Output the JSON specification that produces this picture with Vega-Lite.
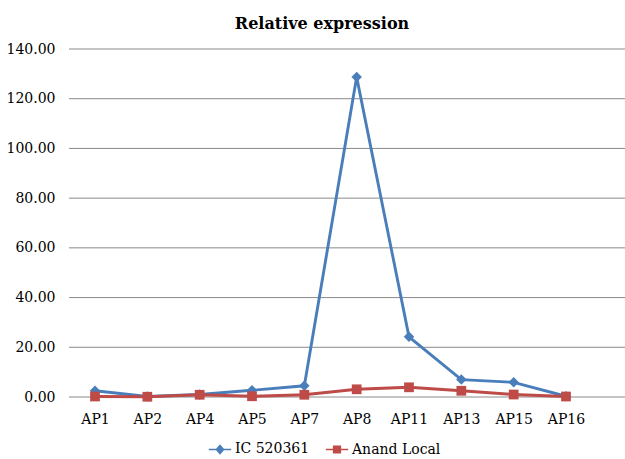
{
  "$schema": "https://vega.github.io/schema/vega-lite/v6.json",
  "autosize": "none",
  "width": 556,
  "height": 348,
  "padding": {"left": 69, "top": 49, "right": 0, "bottom": 62},
  "background": "white",
  "title": {
    "text": "Relative expression",
    "font": "DejaVu Serif",
    "fontSize": 16,
    "fontWeight": "bold",
    "color": "#000000",
    "anchor": "middle",
    "dx": -25,
    "offset": 10
  },
  "config": {
    "view": {"stroke": null},
    "axis": {
      "labelFont": "DejaVu Serif",
      "labelFontSize": 14,
      "labelColor": "#000000",
      "ticks": false,
      "domain": false,
      "grid": false,
      "title": null
    }
  },
  "datasets": {
    "expression": [
      {"gene": "AP1", "series": "IC 520361", "value": 2.5},
      {"gene": "AP2", "series": "IC 520361", "value": 0.2},
      {"gene": "AP4", "series": "IC 520361", "value": 1.0},
      {"gene": "AP5", "series": "IC 520361", "value": 2.7},
      {"gene": "AP7", "series": "IC 520361", "value": 4.5},
      {"gene": "AP8", "series": "IC 520361", "value": 128.7},
      {"gene": "AP11", "series": "IC 520361", "value": 24.2},
      {"gene": "AP13", "series": "IC 520361", "value": 7.0},
      {"gene": "AP15", "series": "IC 520361", "value": 5.9},
      {"gene": "AP16", "series": "IC 520361", "value": 0.3},
      {"gene": "AP1", "series": "Anand Local", "value": 0.2},
      {"gene": "AP2", "series": "Anand Local", "value": 0.1},
      {"gene": "AP4", "series": "Anand Local", "value": 0.9},
      {"gene": "AP5", "series": "Anand Local", "value": 0.3},
      {"gene": "AP7", "series": "Anand Local", "value": 0.9},
      {"gene": "AP8", "series": "Anand Local", "value": 3.1},
      {"gene": "AP11", "series": "Anand Local", "value": 3.9},
      {"gene": "AP13", "series": "Anand Local", "value": 2.5},
      {"gene": "AP15", "series": "Anand Local", "value": 1.0},
      {"gene": "AP16", "series": "Anand Local", "value": 0.2}
    ],
    "gridlines": [
      {"value": 0}, {"value": 20}, {"value": 40}, {"value": 60},
      {"value": 80}, {"value": 100}, {"value": 120}, {"value": 140}
    ]
  },
  "layer": [
    {
      "data": {"name": "gridlines"},
      "mark": {"type": "rule", "color": "#8a8a8a", "strokeWidth": 1},
      "encoding": {
        "y": {
          "field": "value",
          "type": "quantitative",
          "scale": {"domain": [0, 140], "nice": false},
          "axis": {
            "values": [0, 20, 40, 60, 80, 100, 120, 140],
            "format": ".2f",
            "labelPadding": 14
          }
        }
      }
    },
    {
      "data": {"name": "expression"},
      "encoding": {
        "x": {
          "field": "gene",
          "type": "ordinal",
          "sort": null,
          "scale": {"type": "point", "range": [26, 497], "padding": 0},
          "axis": {"labelAngle": 0, "labelPadding": 15}
        },
        "y": {"field": "value", "type": "quantitative"},
        "color": {
          "field": "series",
          "type": "nominal",
          "sort": ["IC 520361", "Anand Local"],
          "scale": {"domain": ["IC 520361", "Anand Local"], "range": ["#4A7EBB", "#BE4B48"]},
          "legend": {
            "title": null,
            "orient": "none",
            "direction": "horizontal",
            "legendX": 139,
            "legendY": 388,
            "labelFont": "DejaVu Serif",
            "labelFontSize": 14,
            "labelColor": "#000000",
            "symbolSize": 500,
            "columnPadding": 12,
            "labelOffset": 3,
            "encode": {
              "symbols": {
                "update": {
                  "shape": {"signal": "datum.value === 'IC 520361' ? 'M-1,0L1,0M0,-0.36L0.32,0L0,0.36L-0.32,0Z' : 'M-1,0L1,0M-0.3,-0.3L0.3,-0.3L0.3,0.3L-0.3,0.3Z'"},
                  "fill": {"signal": "datum.value === 'IC 520361' ? '#4A7EBB' : '#BE4B48'"},
                  "stroke": {"signal": "datum.value === 'IC 520361' ? '#4A7EBB' : '#BE4B48'"},
                  "strokeWidth": {"value": 1.5}
                }
              }
            }
          }
        }
      },
      "layer": [
        {"mark": {"type": "line", "strokeWidth": 2.9}},
        {
          "transform": [{"filter": "datum.series === 'IC 520361'"}],
          "mark": {"type": "point", "shape": "diamond", "filled": true, "opacity": 1, "size": 110}
        },
        {
          "transform": [{"filter": "datum.series === 'Anand Local'"}],
          "mark": {"type": "point", "shape": "square", "filled": true, "opacity": 1, "size": 95}
        }
      ]
    }
  ]
}
